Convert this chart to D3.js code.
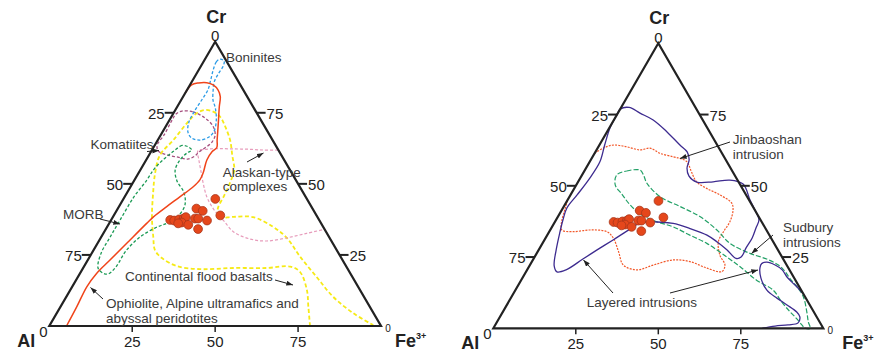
<!DOCTYPE html>
<html>
<head>
<meta charset="utf-8">
<script src="https://cdn.jsdelivr.net/npm/d3@7"></script>
<style>
  body { margin: 0; background: #fff; }
  svg { display: block; font-family: "Liberation Sans", Arial, sans-serif; }
</style>
</head>
<body>
<svg id="chart" width="887" height="352"></svg>
<script>
// every composition below is [Cr, Fe3+] in %, Al = 100 - Cr - Fe3+
const tickValues = [25, 50, 75];

// spinel analyses (same set on both diagrams)
const samples = [
  [44.7, 27.7], [41.3, 23.7], [40.5, 26.0], [38.9, 32.1], [37.3, 17.8], [37.1, 19.1],
  [37.5, 20.4], [37.8, 21.6], [38.3, 22.0], [36.4, 21.7], [36.1, 20.8], [35.6, 24.1],
  [37.8, 25.0], [37.8, 26.0], [37.1, 29.0], [34.1, 27.8]
];

// left diagram fields
const boninites = [
  [93.9, 4.5], [92.9, 3.9], [90.0, 4.4], [86.5, 5.4], [83.0, 6.3], [79.5, 6.2], [75.3, 6.0],
  [71.8, 6.2], [68.2, 7.7], [66.1, 9.9], [65.4, 12.7], [66.5, 14.9], [68.6, 15.4], [72.5, 14.1],
  [76.7, 11.7], [79.5, 9.6], [83.0, 7.9], [85.8, 6.8], [88.6, 6.6], [91.5, 6.7], [93.2, 6.1]
];
const ophiolite = [
  [82.0, 0.0], [84.8, 0.5], [85.5, 2.2], [85.6, 4.7], [84.8, 7.0], [83.0, 9.4], [80.7, 11.2],
  [77.1, 12.7], [71.3, 15.3], [65.4, 17.9], [62.8, 19.1], [61.3, 18.4], [58.4, 18.3], [53.7, 19.5],
  [51.4, 19.7], [49.0, 18.9], [45.5, 16.7], [42.0, 14.4], [38.4, 12.2], [36.1, 11.3], [29.1, 8.8],
  [23.2, 6.7], [18.5, 5.0], [13.8, 4.4], [6.8, 4.9], [0.0, 5.2]
];
const komatiites = [
  [75.6, 2.2], [75.3, 5.7], [73.2, 10.3], [70.3, 14.2], [67.2, 16.4], [64.7, 16.7], [62.6, 15.6],
  [61.2, 14.5], [59.8, 14.0], [58.7, 12.4], [59.4, 9.1], [60.1, 5.7], [61.6, 2.0], [63.7, 0.7],
  [67.2, 1.0], [72.5, 0.8], [74.6, 0.9]
];
const floodBasalts = [
  [0.0, 78.6], [6.8, 74.7], [12.7, 71.3], [19.0, 66.1], [20.9, 62.2], [20.4, 55.3], [20.4, 45.3],
  [20.0, 35.4], [21.1, 27.8], [23.9, 22.0], [26.7, 18.5], [31.3, 15.7], [38.3, 11.8], [46.8, 7.9],
  [53.8, 5.0], [60.1, 3.3], [65.4, 4.7], [71.3, 5.8], [74.8, 7.0], [76.0, 8.9], [75.4, 11.7],
  [73.6, 14.7], [70.1, 18.0], [65.4, 21.8], [60.1, 25.1], [54.9, 28.3], [50.3, 29.3], [45.7, 29.8],
  [41.5, 30.1], [38.3, 31.7], [38.4, 36.3], [38.3, 42.3], [34.9, 50.0], [31.0, 56.1], [24.4, 63.4],
  [17.3, 71.9], [10.3, 80.4], [4.5, 89.4], [0.3, 97.5]
];
const morb = [
  [63.1, 10.2], [63.5, 8.3], [61.6, 6.8], [58.7, 5.2], [55.2, 4.0], [51.0, 3.7], [45.4, 2.8],
  [37.3, 2.7], [31.3, 2.7], [25.7, 2.8], [20.4, 4.5], [18.6, 6.9], [18.3, 8.6], [20.8, 9.7],
  [26.4, 9.9], [31.3, 11.7], [34.5, 14.7], [36.2, 17.4], [38.7, 19.5], [42.6, 19.6], [47.1, 17.0],
  [51.0, 13.0], [54.9, 10.5], [58.4, 10.2], [60.9, 11.1], [61.9, 12.0]
];
const alaskan = [
  [61.9, 38.0], [61.9, 33.5], [62.2, 28.4], [62.3, 23.4], [62.4, 19.3], [62.1, 15.9], [61.6, 14.0],
  [58.4, 15.9], [54.9, 18.2], [50.2, 21.3], [45.4, 24.8], [40.8, 29.3], [37.1, 34.0], [33.1, 39.0],
  [30.6, 45.2], [29.9, 50.5], [31.0, 56.1], [32.6, 61.3], [34.0, 66.0]
];

// right diagram fields
const layeredMain = [
  [76.9, 0.0], [77.5, 2.4], [75.5, 6.7], [73.1, 11.9], [68.9, 18.2], [64.3, 24.4], [61.9, 27.8],
  [59.1, 29.8], [56.2, 30.6], [53.4, 32.6], [51.3, 36.0], [51.4, 40.9], [52.0, 45.7], [50.6, 50.4],
  [45.0, 55.3], [40.8, 59.2], [38.0, 61.5], [35.2, 62.0], [31.7, 62.6], [28.2, 62.5], [25.0, 62.6],
  [24.5, 61.3], [27.5, 57.1], [30.3, 52.7], [32.7, 48.4], [35.0, 42.1], [36.8, 36.1], [37.3, 31.0],
  [36.9, 26.0], [34.1, 23.4], [31.0, 20.8], [27.5, 17.7], [24.3, 15.0], [20.5, 11.8], [19.8, 9.4],
  [21.9, 7.5], [27.5, 5.3], [33.8, 3.3], [38.0, 2.1], [42.2, 1.2], [46.8, 2.0], [52.7, 2.9],
  [58.4, 3.1], [64.3, 1.6], [70.3, 0.2], [74.8, 0.0]
];
const layeredFe = [
  [12.0, 88.0], [14.5, 84.8], [16.2, 82.4], [18.0, 80.0], [20.5, 77.3], [22.2, 74.3], [23.2, 71.3],
  [22.7, 70.0], [21.2, 70.2], [17.6, 72.3], [13.4, 76.2], [10.5, 80.8], [8.2, 84.9], [5.7, 89.1],
  [4.0, 90.9], [1.9, 91.4], [1.2, 88.7], [0.8, 85.0], [0.0, 81.4]
];
const jinbaoshan = [
  [61.4, 0.0], [63.2, 1.7], [64.3, 4.2], [63.7, 8.5], [62.6, 13.2], [63.2, 15.9], [61.4, 19.8],
  [60.2, 24.4], [59.6, 26.8], [58.5, 29.4], [54.9, 32.6], [51.4, 35.9], [49.1, 40.1], [46.8, 45.3],
  [43.9, 50.3], [41.5, 51.9], [37.4, 53.0], [33.9, 52.8], [30.4, 53.0], [25.7, 55.8], [22.2, 59.1],
  [19.9, 59.3], [21.1, 54.2], [23.4, 47.9], [24.0, 42.5], [22.2, 37.4], [20.5, 33.3], [22.2, 28.3],
  [26.9, 24.5], [31.6, 20.6], [33.9, 17.5], [34.5, 12.1], [33.9, 7.3], [34.5, 3.5], [37.4, 2.0],
  [41.5, 0.9], [45.2, 0.0]
];
const sudbury = [
  [53.8, 10.5], [55.2, 12.8], [55.5, 16.7], [53.8, 18.6], [50.9, 21.1], [46.2, 27.4], [42.7, 35.3],
  [39.2, 43.0], [34.5, 50.5], [29.8, 56.8], [26.3, 64.6], [24.3, 70.7], [22.2, 75.3], [19.9, 78.5],
  [17.5, 81.1], [14.0, 85.4], [11.1, 88.4], [5.8, 92.1], [2.3, 94.3], [0.0, 96.0], [0.0, 94.5],
  [1.2, 92.9], [3.5, 90.1], [5.8, 87.0], [9.3, 82.7], [13.4, 78.1], [16.9, 71.3], [21.6, 64.0],
  [25.1, 58.1], [29.8, 49.8], [32.7, 43.2], [35.6, 36.7], [37.4, 30.8], [40.1, 24.5], [43.3, 19.8],
  [47.1, 15.4], [50.3, 11.8]
];

const svg = d3.select('#chart');
const defs = svg.append('defs');
defs.append('marker')
  .attr('id', 'head')
  .attr('viewBox', '0 0 8 6')
  .attr('refX', 8).attr('refY', 3)
  .attr('markerWidth', 7).attr('markerHeight', 5)
  .attr('markerUnits', 'userSpaceOnUse')
  .attr('orient', 'auto')
  .append('path').attr('d', 'M0,0L8,3L0,6Z').attr('fill', '#222');

// ternary scales: x from Fe3+ + Cr/2, y from Cr
function ternary(frame) {
  const x = d3.scaleLinear().domain([0, 100]).range([frame.x0, frame.x0 + frame.w]);
  const y = d3.scaleLinear().domain([0, 100]).range([frame.y0, frame.y0 - frame.h]);
  return { x: d => x(d[1] + d[0] / 2), y: d => y(d[0]) };
}

function drawFrame(g, t, feShift) {
  const ink = '#222';
  g.append('path')
    .attr('d', d3.line().x(t.x).y(t.y)([[100, 0], [0, 0], [0, 100]]) + 'Z')
    .attr('fill', 'none').attr('stroke', ink).attr('stroke-width', 2.2)
    .attr('stroke-linejoin', 'miter');

  const tick = g.append('g').attr('font-size', 15).attr('fill', ink);
  tickValues.forEach(v => {
    const l = [100 - v, 0], r = [v, 100 - v], b = [0, v];
    g.append('line').attr('x1', t.x(l) - 9).attr('x2', t.x(l)).attr('y1', t.y(l)).attr('y2', t.y(l))
      .attr('stroke', ink).attr('stroke-width', 2);
    tick.append('text').attr('x', t.x(l) - 9).attr('y', t.y(l) + 6).attr('text-anchor', 'end').text(v);

    g.append('line').attr('x1', t.x(r)).attr('x2', t.x(r) + 9).attr('y1', t.y(r)).attr('y2', t.y(r))
      .attr('stroke', ink).attr('stroke-width', 2);
    tick.append('text').attr('x', t.x(r) + 10).attr('y', t.y(r) + 6).text(v);

    g.append('line').attr('x1', t.x(b)).attr('x2', t.x(b)).attr('y1', t.y(b)).attr('y2', t.y(b) + 6)
      .attr('stroke', ink).attr('stroke-width', 1.5);
    tick.append('text').attr('x', t.x(b)).attr('y', t.y(b) + 21).attr('text-anchor', 'middle').text(v);
  });
  // corner zeros
  const top = [100, 0], al = [0, 0], fe = [0, 100];
  tick.append('text').attr('x', t.x(top)).attr('y', t.y(top) - 0.5).attr('text-anchor', 'middle').text(0);
  tick.append('text').attr('x', t.x(al) - 6).attr('y', t.y(al) + 11).attr('text-anchor', 'middle').text(0);
  tick.append('text').attr('x', t.x(fe) + 7).attr('y', t.y(fe) + 6).attr('text-anchor', 'middle')
    .attr('font-size', 10).text(0);

  // apex names
  const name = g.append('g').attr('font-size', 18).attr('font-weight', 'bold').attr('fill', ink);
  name.append('text').attr('x', t.x(top) + 1).attr('y', t.y(top) - 19).attr('text-anchor', 'middle').text('Cr');
  name.append('text').attr('x', t.x(al) - 32).attr('y', t.y(al) + 21).text('Al');
  const feText = name.append('text').attr('x', t.x(fe) + feShift).attr('y', t.y(fe) + 21);
  feText.append('tspan').text('Fe');
  feText.append('tspan').attr('font-size', 9).attr('dy', -8).text('3+');
}

function drawField(g, t, pts, style) {
  const curve = style.closed ? d3.curveCatmullRomClosed.alpha(0.5) : d3.curveCatmullRom.alpha(0.5);
  g.append('path')
    .attr('d', d3.line().x(t.x).y(t.y).curve(curve)(pts))
    .attr('fill', 'none')
    .attr('stroke', style.color)
    .attr('stroke-width', style.width || 1.3)
    .attr('stroke-dasharray', style.dash || null);
}

function drawSamples(g, t) {
  g.append('g').selectAll('circle').data(samples).join('circle')
    .attr('cx', t.x).attr('cy', t.y).attr('r', 4.4)
    .attr('fill', '#e5471b').attr('stroke', '#a8361a').attr('stroke-width', 0.8);
}

function drawNotes(g, notes, arrows) {
  const txt = g.append('g').attr('font-size', 13.5).attr('fill', '#3a3a3a');
  notes.forEach(n => n.lines.forEach((s, i) =>
    txt.append('text').attr('x', n.x).attr('y', n.y + i * 14.5).text(s)));
  g.append('g').selectAll('line').data(arrows).join('line')
    .attr('x1', d => d[0]).attr('y1', d => d[1]).attr('x2', d => d[2]).attr('y2', d => d[3])
    .attr('stroke', '#222').attr('stroke-width', 1).attr('marker-end', 'url(#head)');
}

// ---- left diagram
const left = svg.append('g');
const tl = ternary({ x0: 49.3, y0: 326, w: 331.7, h: 284.3 });
drawField(left, tl, floodBasalts, { color: '#f6ea16', dash: '4,2.5', width: 1.8 });
drawField(left, tl, alaskan, { color: '#e79cbb', dash: '3,2', width: 1.2 });
drawField(left, tl, komatiites, { color: '#a6507f', dash: '3,2', closed: true });
drawField(left, tl, boninites, { color: '#2b9be6', dash: '3,2', closed: true });
drawField(left, tl, morb, { color: '#1b9a55', dash: '3,2', closed: true });
drawField(left, tl, ophiolite, { color: '#f0441a', width: 1.5 });
drawFrame(left, tl, 14);
drawSamples(left, tl);
drawNotes(left, [
  { x: 226, y: 62, lines: ['Boninites'] },
  { x: 90.5, y: 149, lines: ['Komatiites'] },
  { x: 63, y: 219, lines: ['MORB'] },
  { x: 222.7, y: 176.5, lines: ['Alaskan-type', 'complexes'] },
  { x: 125, y: 281, lines: ['Continental flood basalts'] },
  { x: 106, y: 308, lines: ['Ophiolite, Alpine ultramafics and', 'abyssal peridotites'] }
], [
  [147, 151.5, 159, 150.5], [100, 219, 120, 224], [247, 162, 263.5, 153],
  [275, 280, 293, 285], [103, 299, 90.5, 287.5]
]);

// ---- right diagram
const right = svg.append('g');
const tr = ternary({ x0: 493.3, y0: 328.3, w: 330, h: 285 });
drawField(right, tr, jinbaoshan, { color: '#f2582a', dash: '2,1.2', width: 1.2 });
drawField(right, tr, sudbury, { color: '#22a066', dash: '5,2', width: 1.2, closed: true });
drawField(right, tr, layeredMain, { color: '#3d2b8f', width: 1.3, closed: true });
drawField(right, tr, layeredFe, { color: '#3d2b8f', width: 1.3 });
drawFrame(right, tr, 19);
drawSamples(right, tr);
drawNotes(right, [
  { x: 732.7, y: 144, lines: ['Jinbaoshan', 'intrusion'] },
  { x: 783, y: 232, lines: ['Sudbury', 'intrusions'] },
  { x: 586.7, y: 307, lines: ['Layered intrusions'] }
], [
  [730, 142, 680, 158.5], [773, 235, 751.5, 253.5],
  [613, 293, 583.5, 260], [670, 293, 758, 270]
]);
</script>
</body>
</html>
